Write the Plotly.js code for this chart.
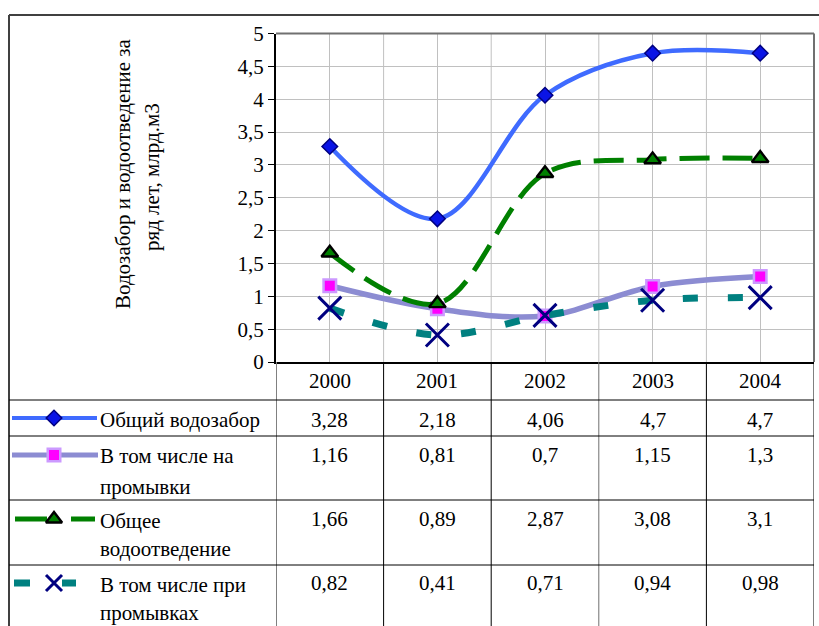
<!DOCTYPE html>
<html><head><meta charset="utf-8">
<script src="https://cdn.plot.ly/plotly-3.0.1.min.js"></script>
<style>body{margin:0;padding:0;background:#fff}</style>
</head><body><div id="chart" style="width:819px;height:626px"></div>
<script>
// ---- data ----
const years = ['2000', '2001', '2002', '2003', '2004'];
const totalIntake = [3.28, 2.18, 4.06, 4.7, 4.7];
const intakeFlushing = [1.16, 0.81, 0.7, 1.15, 1.3];
const totalDischarge = [1.66, 0.89, 2.87, 3.08, 3.1];
const dischargeFlushing = [0.82, 0.41, 0.71, 0.94, 0.98];
const seriesNames = [
  ['Общий водозабор'],
  ['В том числе на', 'промывки'],
  ['Общее', 'водоотведение'],
  ['В том числе при', 'промывках']
];
const yTitleLines = ['Водозабор и водоотведение за', 'ряд лет, млрд.м3'];
const yTicks = [0, 0.5, 1, 1.5, 2, 2.5, 3, 3.5, 4, 4.5, 5];

// ---- helpers / layout geometry ----
const W = 819, H = 626;
const px = x => x / W;
const py = y => 1 - y / H;
const FONT = 'Liberation Serif';
const FS = 21;
const fmt = v => String(v).replace('.', ',');

const allSeries = [totalIntake, intakeFlushing, totalDischarge, dischargeFlushing];
const styles = [
  {line: {color: '#3F6BFF', width: 4.5, shape: 'spline', smoothing: 1},
   marker: {symbol: 'diamond', size: 12, color: '#0A14E6', line: {color: '#000080', width: 1.5}}},
  {line: {color: '#8C8CD2', width: 5.5, shape: 'spline', smoothing: 1},
   marker: {symbol: 'square', size: 12.5, color: '#FF00FF', line: {color: '#CC99FF', width: 2.5}}},
  {line: {color: '#008000', width: 5, shape: 'spline', smoothing: 1, dash: '30px,13px'},
   marker: {symbol: 'triangle-up', size: 14.5, color: '#008000', line: {color: '#000000', width: 2.4}}},
  {line: {color: '#008080', width: 7, shape: 'spline', smoothing: 1, dash: '15px,30px'},
   marker: {symbol: 'x-thin', size: 23, color: '#000080', line: {color: '#000080', width: 3}}}
];

const traces = allSeries.map((vals, i) => ({
  type: 'scatter', mode: 'lines+markers', x: years, y: vals,
  name: seriesNames[i].join(' '), line: styles[i].line, marker: styles[i].marker,
  xaxis: 'x', yaxis: 'y', hoverinfo: 'x+y', cliponaxis: false
}));

// legend samples in the table's first column (pixel-space overlay axes)
const legendRowsY = [418, 455, 519, 583];
const legendLines = [
  {x: [12, 97], dash: 'solid', width: 4},
  {x: [12, 98], dash: 'solid', width: 5},
  {x: [15, 95], dash: '32px,24px', width: 5},
  {x: [14, 76], dash: '16px,32px', width: 7}
];
const legendMarkerX = [54, 54, 54, 54];
const legendMarkerSize = [12, 12.5, 14, 16];
legendLines.forEach((l, i) => {
  traces.push({type: 'scatter', mode: 'lines', x: l.x, y: [legendRowsY[i], legendRowsY[i]],
    xaxis: 'x2', yaxis: 'y2', hoverinfo: 'skip', showlegend: false,
    line: Object.assign({}, styles[i].line, {shape: 'linear', dash: l.dash, width: l.width})});
  const mk = Object.assign({}, styles[i].marker, {size: legendMarkerSize[i]});
  traces.push({type: 'scatter', mode: 'markers', x: [legendMarkerX[i]], y: [legendRowsY[i]],
    xaxis: 'x2', yaxis: 'y2', hoverinfo: 'skip', showlegend: false, marker: mk});
});

// ---- shapes ----
const shapes = [];
const plotL = 276, plotR = 814, plotT = 33.5, plotB = 362, tableBottom = 626;
// outer frame
shapes.push({type: 'line', xref: 'paper', yref: 'paper', x0: px(9), x1: px(9), y0: py(15), y1: py(626), line: {color: '#404040', width: 2}});
shapes.push({type: 'line', xref: 'paper', yref: 'paper', x0: px(9), x1: px(819), y0: py(15), y1: py(15), line: {color: '#404040', width: 2}});
// plot top/right border
shapes.push({type: 'line', xref: 'paper', yref: 'paper', x0: px(plotL), x1: px(plotR), y0: py(plotT), y1: py(plotT), line: {color: '#707070', width: 2}});
shapes.push({type: 'line', xref: 'paper', yref: 'paper', x0: px(plotR), x1: px(plotR), y0: py(plotT), y1: py(plotB), line: {color: '#707070', width: 2}});
// category boundary gridlines inside plot
for (let i = 1; i < years.length; i++) {
  shapes.push({type: 'line', xref: 'x', yref: 'y', x0: i - 0.5, x1: i - 0.5, y0: 0, y1: 5, layer: 'below', line: {color: '#C0C0C0', width: 1}});
}
// table vertical lines
for (let i = 0; i <= years.length; i++) {
  const isFirst = i === 0;
  shapes.push({type: 'line', xref: 'x', yref: 'paper', x0: i - 0.5, x1: i - 0.5, y0: py(plotB), y1: py(tableBottom),
    line: {color: isFirst ? '#808080' : (i === 3 ? '#707070' : '#000000'), width: isFirst ? 2 : 1}});
}
// table horizontal lines
const rowLines = [400, 436, 500, 565];
rowLines.forEach(y => shapes.push({type: 'line', xref: 'paper', yref: 'paper', x0: px(9), x1: px(plotR), y0: py(y), y1: py(y), line: {color: '#000000', width: 1}}));

// ---- annotations ----
const annotations = [];
const tf = () => ({family: FONT, size: FS, color: '#000000'});
// y title
annotations.push({xref: 'paper', yref: 'paper', x: px(123), y: py(174), text: yTitleLines[0], textangle: -90, showarrow: false, font: tf(), xanchor: 'center', yanchor: 'middle'});
annotations.push({xref: 'paper', yref: 'paper', x: px(152), y: py(177), text: yTitleLines[1], textangle: -90, showarrow: false, font: tf(), xanchor: 'center', yanchor: 'middle'});
// header years (x = category index on the category axis)
years.forEach((yr, c) => annotations.push({xref: 'x', yref: 'paper', x: c, y: py(381), text: yr, showarrow: false, font: tf(), yanchor: 'middle'}));
// values
const valueRowY = [420, 455, 519, 583];
allSeries.forEach((vals, r) => vals.forEach((v, c) => annotations.push({
  xref: 'x', yref: 'paper', x: c, y: py(valueRowY[r]), text: fmt(v), showarrow: false, font: tf(), yanchor: 'middle'})));
// legend labels
const labelLineY = [[420], [456, 487], [521, 549], [585, 613]];
seriesNames.forEach((lines, r) => lines.forEach((t, k) => annotations.push({
  xref: 'paper', yref: 'paper', x: px(98), y: py(labelLineY[r][k]), text: t, showarrow: false, font: tf(), xanchor: 'left', yanchor: 'middle'})));

const layout = {
  width: W, height: H,
  margin: {l: 0, r: 0, t: 0, b: 0, pad: 0},
  paper_bgcolor: '#ffffff', plot_bgcolor: 'rgba(0,0,0,0)',
  separators: ', ',
  showlegend: false,
  font: {family: FONT, size: FS, color: '#000'},
  xaxis: {
    type: 'category', domain: [px(plotL), px(plotR)], range: [-0.5, 4.5],
    showgrid: true, gridcolor: '#C0C0C0', gridwidth: 1,
    showline: true, linecolor: '#000000', linewidth: 2,
    showticklabels: false, ticks: '', zeroline: false, fixedrange: true
  },
  yaxis: {
    domain: [py(plotB), py(plotT)], range: [0, 5], tickvals: yTicks,
    ticktext: yTicks.map(fmt),
    showgrid: true, gridcolor: '#C0C0C0', gridwidth: 1,
    showline: true, linecolor: '#000000', linewidth: 2,
    ticks: 'outside', ticklen: 6, tickcolor: '#000000', tickwidth: 1,
    tickfont: tf(), zeroline: false, fixedrange: true
  },
  xaxis2: {domain: [0, 1], range: [0, W], visible: false, anchor: 'y2', fixedrange: true},
  yaxis2: {domain: [0, 1], range: [H, 0], visible: false, anchor: 'x2', fixedrange: true},
  shapes: shapes,
  annotations: annotations
};

Plotly.newPlot('chart', traces, layout, {displayModeBar: false, staticPlot: true});
</script>
</body></html>
